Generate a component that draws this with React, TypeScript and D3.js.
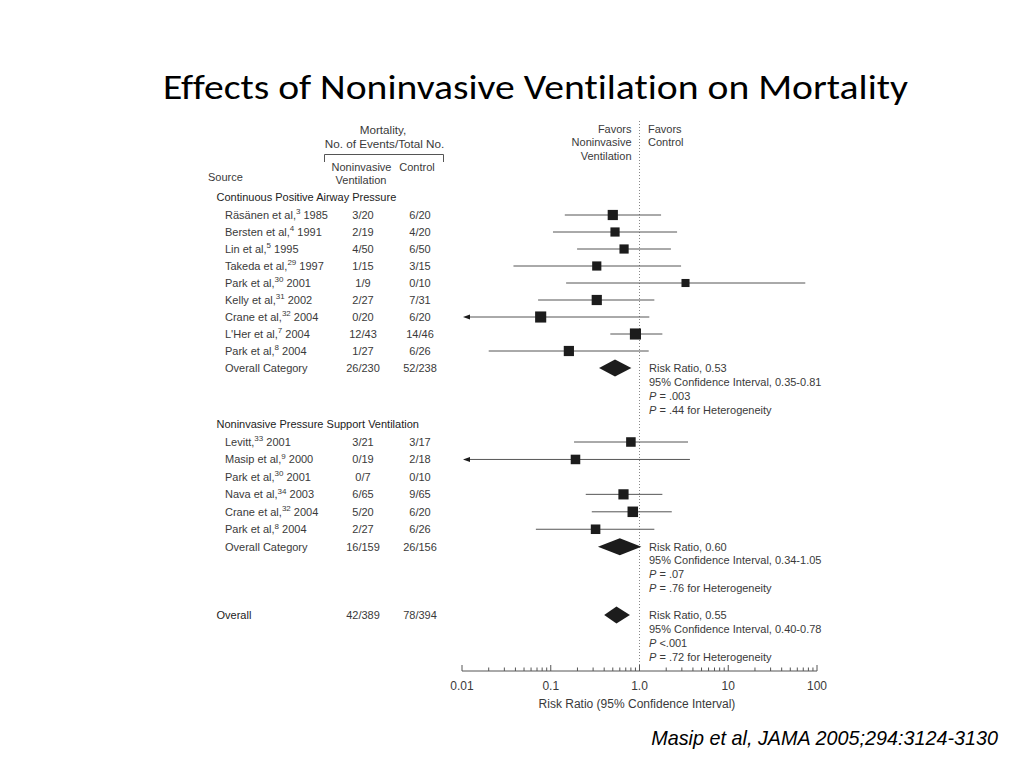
import React from "react";
import * as d3 from "d3";

// ---------- DATA ----------
const cpapNames = ["Räsänen et al,", "Bersten et al,", "Lin et al,", "Takeda et al,", "Park et al,", "Kelly et al,", "Crane et al,", "L'Her et al,", "Park et al,"];
const cpapRefs = ["3", "4", "5", "29", "30", "31", "32", "7", "8"];
const cpapYears = ["1985", "1991", "1995", "1997", "2001", "2002", "2004", "2004", "2004"];
const cpapNiv = ["3/20", "2/19", "4/50", "1/15", "1/9", "2/27", "0/20", "12/43", "1/27"];
const cpapCtrl = ["6/20", "4/20", "6/50", "3/15", "0/10", "7/31", "6/20", "14/46", "6/26"];
const cpapRR = [0.5, 0.53, 0.67, 0.33, 3.3, 0.33, 0.077, 0.9, 0.16];
const cpapLo = [0.144, 0.106, 0.198, 0.038, 0.149, 0.072, 0.005, 0.469, 0.02];
const cpapHi = [1.75, 2.65, 2.26, 2.94, 73.8, 1.47, 1.29, 1.81, 1.27];
const cpapWeight = [8, 6.5, 6.5, 6.5, 5, 8, 9.5, 9.5, 8];

const npsvNames = ["Levitt,", "Masip et al,", "Park et al,", "Nava et al,", "Crane et al,", "Park et al,"];
const npsvRefs = ["33", "9", "30", "34", "32", "8"];
const npsvYears = ["2001", "2000", "2001", "2003", "2004", "2004"];
const npsvNiv = ["3/21", "0/19", "0/7", "6/65", "5/20", "2/27"];
const npsvCtrl = ["3/17", "2/18", "0/10", "9/65", "6/20", "6/26"];
const npsvRR: (number | null)[] = [0.8, 0.19, null, 0.66, 0.84, 0.32];
const npsvLo: (number | null)[] = [0.183, 0.005, null, 0.248, 0.29, 0.068];
const npsvHi: (number | null)[] = [3.52, 3.7, null, 1.81, 2.31, 1.47];
const npsvWeight = [7, 7, 0, 8, 8.5, 7];

const summaryLabels = ["Overall Category", "Overall Category", "Overall"];
const summaryNiv = ["26/230", "16/159", "42/389"];
const summaryCtrl = ["52/238", "26/156", "78/394"];
const summaryRR = [0.53, 0.6, 0.55];
const summaryLo = [0.35, 0.34, 0.4];
const summaryHi = [0.81, 1.05, 0.78];
const summaryCI = ["0.35-0.81", "0.34-1.05", "0.40-0.78"];
const summaryP = ["P = .003", "P = .07", "P <.001"];
const summaryHet = [".44", ".76", ".72"];

const sectionTitles = ["Continuous Positive Airway Pressure", "Noninvasive Pressure Support Ventilation"];
const tickValues = [0.01, 0.1, 1, 10, 100];
const tickLabels = ["0.01", "0.1", "1.0", "10", "100"];

// ---------- LAYOUT ----------
const W = 1024, H = 768;
const x = d3.scaleLog().domain([0.01, 100]).range([462, 817]);
const axisY = 671;
const nameX = 225;
const col1X = 363;
const col2X = 420;
const annX = 649;
const textColor = "#3a3a3a";
const lineColor = "#555";
const markColor = "#1c1c1c";
const FONT = "'Liberation Sans', Arial, Helvetica, sans-serif";

const sec1 = d3.scaleLinear().domain([0, 1]).range([215, 232]);
const sec2 = d3.scaleLinear().domain([0, 1]).range([442, 459.45]);
const overallY = 615;
const size = d3.scaleSqrt().domain([0, 10]).range([0, 11.4]);

type Row = { name: string; ref: string; year: string; niv: string; ctrl: string; rr: number | null; lo: number | null; hi: number | null; w: number; y: number };

const rows1: Row[] = cpapNames.map((n, i) => ({ name: n, ref: cpapRefs[i], year: cpapYears[i], niv: cpapNiv[i], ctrl: cpapCtrl[i], rr: cpapRR[i], lo: cpapLo[i], hi: cpapHi[i], w: cpapWeight[i], y: sec1(i) }));
const rows2: Row[] = npsvNames.map((n, i) => ({ name: n, ref: npsvRefs[i], year: npsvYears[i], niv: npsvNiv[i], ctrl: npsvCtrl[i], rr: npsvRR[i], lo: npsvLo[i], hi: npsvHi[i], w: npsvWeight[i], y: sec2(i) }));
const summaryYs = [sec1(cpapNames.length), sec2(npsvNames.length), overallY];
const sectionYs = [sec1(-1.06), sec2(-1.05)];

function StudyRow({ r }: { r: Row }) {
  const hasCI = r.rr !== null && r.lo !== null && r.hi !== null;
  const clipped = hasCI && (r.lo as number) < 0.01;
  const s = size(r.w);
  return (
    <g>
      <text x={nameX} y={r.y} dy="0.35em" fontSize={11} fill={textColor}>
        {r.name}
        <tspan dy={-4.5} fontSize={8}>{r.ref}</tspan>
        <tspan dy={4.5}>{" " + r.year}</tspan>
      </text>
      <text x={col1X} y={r.y} dy="0.35em" fontSize={11} fill={textColor} textAnchor="middle">{r.niv}</text>
      <text x={col2X} y={r.y} dy="0.35em" fontSize={11} fill={textColor} textAnchor="middle">{r.ctrl}</text>
      {hasCI && (
        <g>
          <line x1={clipped ? x(0.01) + 4 : x(r.lo as number)} x2={x(r.hi as number)} y1={r.y} y2={r.y} stroke={lineColor} strokeWidth={1} />
          {clipped && (
            <path d={`M${x(0.01) + 1},${r.y} L${x(0.01) + 8},${r.y - 2.5} L${x(0.01) + 8},${r.y + 2.5} Z`} fill={markColor} />
          )}
          <rect x={x(r.rr as number) - s / 2} y={r.y - s / 2} width={s} height={s} fill={markColor} />
        </g>
      )}
    </g>
  );
}

export default function App() {
  const minorTicks: number[] = [];
  for (let d = 0.01; d < 100; d *= 10) {
    for (let k = 2; k <= 9; k++) minorTicks.push(+(d * k).toPrecision(3));
  }
  return (
    <svg width={W} height={H} style={{ position: "absolute", left: 0, top: 0, background: "#fff" }} fontFamily={FONT}>
      <rect x={0} y={0} width={W} height={H} fill="#fff" />
      {/* Title */}
      <text x={535.5} y={99} textAnchor="middle" fontSize={34} fontFamily="Carlito, Calibri, Lato, sans-serif" fill="#000" textLength={745} lengthAdjust="spacingAndGlyphs" style={{ fontVariantLigatures: "none" }}>
        Effects of Noninvasive Ventilation on Mortality
      </text>

      {/* Header */}
      <g fill={textColor} fontSize={11}>
        <text x={383} y={130} dy="0.35em" textAnchor="middle" fontSize={11.7}>Mortality,</text>
        <text x={384.5} y={143.5} dy="0.35em" textAnchor="middle" fontSize={11.7}>No. of Events/Total No.</text>
        <path d="M324.5,162 V154.5 H443.5 V162" fill="none" stroke={lineColor} strokeWidth={1} />
        <text x={361.5} y={167.5} dy="0.35em" textAnchor="middle">Noninvasive</text>
        <text x={361} y={180.5} dy="0.35em" textAnchor="middle">Ventilation</text>
        <text x={417} y={167.5} dy="0.35em" textAnchor="middle">Control</text>
        <text x={208} y={177.5} dy="0.35em">Source</text>
        <text x={631.5} y={129} dy="0.35em" textAnchor="end">Favors</text>
        <text x={631.5} y={142.5} dy="0.35em" textAnchor="end">Noninvasive</text>
        <text x={631.5} y={156.5} dy="0.35em" textAnchor="end">Ventilation</text>
        <text x={648} y={129} dy="0.35em">Favors</text>
        <text x={648} y={142.5} dy="0.35em">Control</text>
      </g>

      {/* Reference line */}
      <line x1={x(1)} x2={x(1)} y1={121} y2={axisY} stroke="#888" strokeWidth={1} strokeDasharray="1,2" />

      {/* Section titles */}
      {sectionTitles.map((t, i) => (
        <text key={t} x={216.5} y={sectionYs[i]} dy="0.35em" fontSize={11} fill="#222">{t}</text>
      ))}

      {rows1.map((r, i) => <StudyRow key={"a" + i} r={r} />)}
      {rows2.map((r, i) => <StudyRow key={"b" + i} r={r} />)}

      {/* Summaries */}
      {summaryRR.map((rr, i) => {
        const y = summaryYs[i];
        const isOverall = i === 2;
        const h = 8.5;
        const ann = [0, 1, 2, 3].map((k) => y + k * 13.9);
        return (
          <g key={"s" + i}>
            <text x={isOverall ? 216.5 : nameX} y={y} dy="0.35em" fontSize={11} fill={isOverall ? "#222" : textColor}>{summaryLabels[i]}</text>
            <text x={col1X} y={y} dy="0.35em" fontSize={11} fill={textColor} textAnchor="middle">{summaryNiv[i]}</text>
            <text x={col2X} y={y} dy="0.35em" fontSize={11} fill={textColor} textAnchor="middle">{summaryCtrl[i]}</text>
            <path d={`M${x(summaryLo[i])},${y} L${x(rr)},${y - h} L${x(summaryHi[i])},${y} L${x(rr)},${y + h} Z`} fill={markColor} />
            <g fontSize={11} fill={textColor}>
              <text x={annX} y={ann[0]} dy="0.35em">{`Risk Ratio, ${rr.toFixed(2)}`}</text>
              <text x={annX} y={ann[1]} dy="0.35em">{`95% Confidence Interval, ${summaryCI[i]}`}</text>
              <text x={annX} y={ann[2]} dy="0.35em">
                <tspan fontStyle="italic">P</tspan>
                {summaryP[i].slice(1)}
              </text>
              <text x={annX} y={ann[3]} dy="0.35em">
                <tspan fontStyle="italic">P</tspan>
                {` = ${summaryHet[i]} for Heterogeneity`}
              </text>
            </g>
          </g>
        );
      })}

      {/* Axis */}
      <g>
        <line x1={x(0.01)} x2={x(100)} y1={axisY} y2={axisY} stroke={lineColor} strokeWidth={1} />
        {tickValues.map((t) => (
          <line key={"M" + t} x1={x(t)} x2={x(t)} y1={axisY} y2={axisY - 6} stroke={lineColor} strokeWidth={1} />
        ))}
        {minorTicks.map((t) => (
          <line key={"m" + t} x1={x(t)} x2={x(t)} y1={axisY} y2={axisY - 3.5} stroke={lineColor} strokeWidth={1} />
        ))}
        {tickLabels.map((lab, i) => (
          <text key={"l" + lab} x={x(tickValues[i])} y={686} dy="0.35em" fontSize={12} fill={textColor} textAnchor="middle">{lab}</text>
        ))}
        <text x={637} y={704} dy="0.35em" fontSize={12} fill={textColor} textAnchor="middle">Risk Ratio (95% Confidence Interval)</text>
      </g>

      {/* Citation */}
      <text x={998} y={745} textAnchor="end" fontSize={19.8} fontStyle="italic" fill="#000">Masip et al, JAMA 2005;294:3124-3130</text>
    </svg>
  );
}
